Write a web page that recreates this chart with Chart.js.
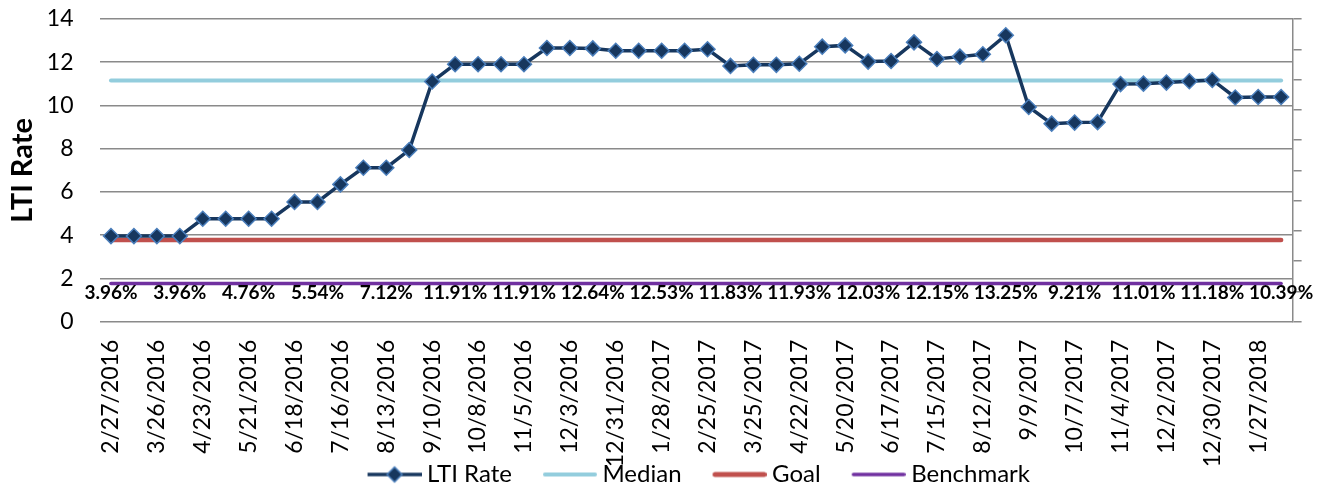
<!DOCTYPE html>
<html><head><meta charset="utf-8">
<script src="https://cdn.jsdelivr.net/npm/chart.js@4.4.1/dist/chart.umd.min.js"></script>
<style>html,body{margin:0;padding:0;background:#fff;}</style>
</head><body>
<canvas id="c" width="1327" height="489"></canvas>
<script>
// ---- data ----
const dates = ['2/27/2016','3/12/2016','3/26/2016','4/9/2016','4/23/2016','5/7/2016','5/21/2016','6/4/2016','6/18/2016','7/2/2016',
 '7/16/2016','7/30/2016','8/13/2016','8/27/2016','9/10/2016','9/24/2016','10/8/2016','10/22/2016','11/5/2016','11/19/2016',
 '12/3/2016','12/17/2016','12/31/2016','1/14/2017','1/28/2017','2/11/2017','2/25/2017','3/11/2017','3/25/2017','4/8/2017',
 '4/22/2017','5/6/2017','5/20/2017','6/3/2017','6/17/2017','7/1/2017','7/15/2017','7/29/2017','8/12/2017','8/26/2017',
 '9/9/2017','9/23/2017','10/7/2017','10/21/2017','11/4/2017','11/18/2017','12/2/2017','12/16/2017','12/30/2017','1/13/2018',
 '1/27/2018','2/10/2018'];
const ltiRate = [3.96,3.96,3.96,3.96,4.76,4.76,4.76,4.76,5.54,5.54,
 6.35,7.12,7.12,7.94,11.11,11.91,11.91,11.91,11.91,12.66,
 12.66,12.64,12.53,12.53,12.53,12.53,12.60,11.83,11.88,11.88,
 11.93,12.72,12.78,12.03,12.06,12.92,12.15,12.26,12.37,13.25,
 9.93,9.16,9.21,9.23,10.99,11.01,11.06,11.12,11.18,10.37,
 10.39,10.39];
const MEDIAN = 11.15;
const GOAL = 3.78;
const BENCHMARK = 1.77;
const labelIndices = [0,3,6,9,12,15,18,21,24,27,30,33,36,39,42,45,48,51];
const seriesNames = ['LTI Rate','Median','Goal','Benchmark'];

// ---- styles ----
const NAVY = '#17375E', MARK_BORDER = '#4A7EBB', MED_C = '#93CDDD', GOAL_C = '#C0504D', BENCH_C = '#7030A0';
const GRID_C = '#8A8A8A';
const FONT = 'Lato';

const medianData = dates.map(() => MEDIAN);
const goalData = dates.map(() => GOAL);
const benchData = dates.map(() => BENCHMARK);

function legendImg(color, lw, diamond) {
  const c = document.createElement('canvas');
  c.width = 82; c.height = 20;
  const g = c.getContext('2d');
  g.strokeStyle = color; g.lineWidth = lw; g.lineCap = diamond ? 'butt' : 'round';
  g.beginPath(); g.moveTo(28 + (diamond ? 0 : lw/2), 10); g.lineTo(82 - (diamond ? 0 : lw/2), 10); g.stroke();
  if (diamond) {
    g.beginPath();
    g.moveTo(55, 2.5); g.lineTo(62.5, 10); g.lineTo(55, 17.5); g.lineTo(47.5, 10); g.closePath();
    g.fillStyle = NAVY; g.fill();
    g.lineWidth = 1.5; g.strokeStyle = MARK_BORDER; g.stroke();
  }
  return c;
}
const legendImgs = [legendImg(NAVY, 3.5, true), legendImg(MED_C, 4, false), legendImg(GOAL_C, 5, false), legendImg(BENCH_C, 3.5, false)];

const LEGEND_DX = 34.5, LEGEND_DY = 7.5;
const layoutTweak = {
  id: 'layoutTweak',
  afterUpdate(chart) {
    const l = chart.legend;
    if (l) { l.left += LEGEND_DX; l.right += LEGEND_DX; l.top += LEGEND_DY; l.bottom += LEGEND_DY; }
    const xs = chart.scales.x;
    xs.bottom = chart.height; xs.height = xs.bottom - xs.top;
  }
};

const pctLabels = {
  id: 'pctLabels',
  afterDatasetsDraw(chart) {
    const ctx = chart.ctx, xs = chart.scales.x, ys = chart.scales.y;
    ctx.save();
    ctx.font = 'bold 19px ' + FONT;
    ctx.fillStyle = '#000';
    ctx.textAlign = 'center';
    ctx.textBaseline = 'middle';
    const y = ys.getPixelForValue(BENCHMARK) + 9;
    labelIndices.forEach(i => {
      ctx.fillText(ltiRate[i].toFixed(2) + '%', xs.getPixelForValue(i), y);
    });
    ctx.restore();
  }
};

new Chart(document.getElementById('c'), {
  type: 'line',
  data: {
    labels: dates,
    datasets: [
      { label: seriesNames[0], data: ltiRate, borderColor: NAVY, borderWidth: 3.5, backgroundColor: NAVY,
        pointStyle: 'rectRot', pointRadius: 7.5, pointBackgroundColor: NAVY, pointBorderColor: MARK_BORDER,
        pointBorderWidth: 1.5, tension: 0, fill: false },
      { label: seriesNames[1], data: medianData, borderColor: MED_C, borderWidth: 4, pointRadius: 0, borderCapStyle: 'round', fill: false },
      { label: seriesNames[2], data: goalData, borderColor: GOAL_C, borderWidth: 4.5, pointRadius: 0, borderCapStyle: 'round', fill: false },
      { label: seriesNames[3], data: benchData, borderColor: BENCH_C, borderWidth: 3.5, pointRadius: 0, borderCapStyle: 'round', fill: false }
    ]
  },
  options: {
    responsive: false,
    devicePixelRatio: 1,
    animation: false,
    events: [],
    layout: { padding: { top: 19, right: 20, left: 0, bottom: 0 } },
    scales: {
      x: {
        type: 'category',
        offset: true,
        grid: { display: false, drawTicks: false },
        border: { display: false },
        ticks: {
          autoSkip: false, minRotation: 90, maxRotation: 90, padding: 18,
          color: '#000', font: { family: FONT, size: 23 },
          callback: function(v, i) { return i % 2 === 0 ? dates[i] : ''; }
        },
        afterFit: s => { s.height = 123.8; }
      },
      y: {
        min: 0, max: 14,
        ticks: { stepSize: 2, padding: 4, color: '#000', font: { family: FONT, size: 23 } },
        grid: { color: GRID_C, lineWidth: 1.5, drawTicks: true, tickLength: 22, tickColor: 'rgba(0,0,0,0)' },
        border: { display: false },
        title: { display: true, text: 'LTI Rate', color: '#000', font: { family: FONT, size: 29, weight: 'bold' }, padding: { top: 5, bottom: 0 } },
        afterFit: s => { s.width = 99.5; }
      },
      y2: {
        position: 'right', min: 0, max: 10,
        ticks: { display: false, stepSize: 1 },
        grid: { drawOnChartArea: false, drawTicks: true, tickLength: 9, color: GRID_C, lineWidth: 1.5 },
        border: { display: true, color: GRID_C, width: 1.5 }
      }
    },
    plugins: {
      tooltip: { enabled: false },
      legend: {
        position: 'bottom',
        labels: {
          usePointStyle: true,
          pointStyleWidth: 69,
          padding: 9.5,
          color: '#000',
          font: { family: FONT, size: 24 },
          generateLabels: chart => chart.data.datasets.map((d, i) => ({
            text: d.label, pointStyle: legendImgs[i], datasetIndex: i, hidden: false,
            lineWidth: 0, strokeStyle: 'transparent', fillStyle: 'transparent'
          }))
        }
      }
    }
  },
  plugins: [layoutTweak, pctLabels]
});
</script>
</body></html>
